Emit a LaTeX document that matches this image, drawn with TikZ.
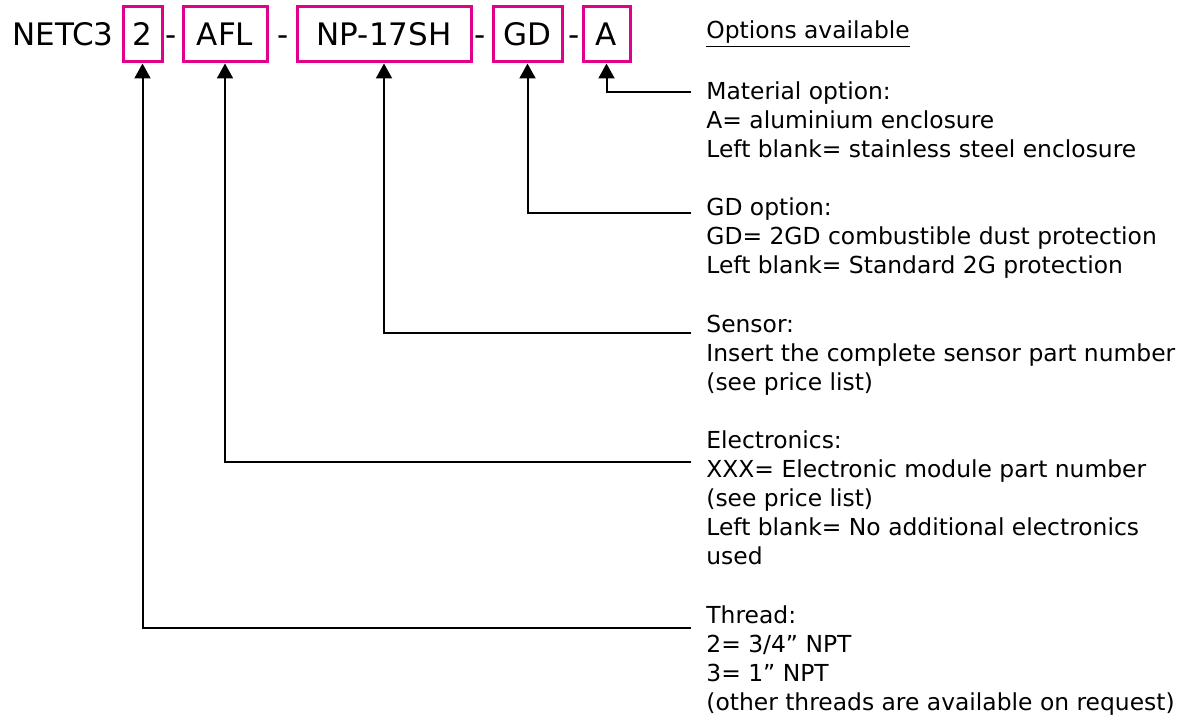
\documentclass[tikz,border=0pt]{standalone}
\usepackage{fontspec}
\setmainfont{DejaVu Sans}
\usetikzlibrary{arrows.meta}
\definecolor{kotakmerah}{RGB}{224,0,140}

\begin{document}
\begin{tikzpicture}[x=0.5pt,y=-0.5pt,
    kode/.style={font=\fontsize{15.5}{17}\selectfont, inner sep=0pt, anchor=base},
    kotak/.style={kode, draw=kotakmerah, line width=1.5pt, text height=19.5pt, text depth=8pt},
    ket/.style={font=\fontsize{11.7}{14.5}\selectfont, inner sep=0pt, anchor=north west, align=left},
    panah/.style={line width=1pt, -{Triangle[width=8pt,length=7.5pt]}}]
    \useasboundingbox (0,0) rectangle (1198,716);

    % Kode produk
    \node[kode, anchor=base west] (awal) at (12,46) {NETC3};
    \node[kotak, minimum width=19.5pt] (ulir) at (142.5,46) {2};
    \node[kode] (s1) at (171,46) {-};
    \node[kotak, minimum width=42pt] (elek) at (225,46) {AFL\ };
    \node[kode] (s2) at (283,46) {-};
    \node[kotak, minimum width=87pt] (sensor) at (384,46) {NP-17SH\ };
    \node[kode] (s3) at (480,46) {-};
    \node[kotak, minimum width=34.5pt] (debu) at (527.5,46) {GD};
    \node[kode] (s4) at (574,46) {-};
    \node[kotak, minimum width=23.5pt] (bahan) at (606.5,46) {A};

    % Keterangan pilihan
    \node[ket, anchor=base west] (judul) at (706,39) {\underline{Options available}};
    \node[ket] (kbahan) at (706,78.7) {\strut Material option:\\A= aluminium enclosure\\Left blank= stainless steel enclosure};
    \node[ket] (kdebu) at (706,194.7) {\strut GD option:\\GD= 2GD combustible dust protection\\Left blank= Standard 2G protection};
    \node[ket] (ksensor) at (706,311.7) {\strut Sensor:\\Insert the complete sensor part number\\(see price list)};
    \node[ket] (kelek) at (706,427.7) {\strut Electronics:\\XXX= Electronic module part number\\(see price list)\\Left blank= No additional electronics\\used};
    \node[ket] (kulir) at (706,602.7) {\strut Thread:\\2= 3/4” NPT\\3= 1” NPT\\(other threads are available on request)};

    % Panah penunjuk
    \coordinate (ubahan) at (691,92);
    \coordinate (udebu) at (691,213);
    \coordinate (usensor) at (691,333);
    \coordinate (uelek) at (691,462);
    \coordinate (uulir) at (691,628);
    \draw[panah] (ubahan) -| (bahan.south);
    \draw[panah] (udebu) -| (debu.south);
    \draw[panah] (usensor) -| (sensor.south);
    \draw[panah] (uelek) -| (elek.south);
    \draw[panah] (uulir) -| (ulir.south);
\end{tikzpicture}
\end{document}
